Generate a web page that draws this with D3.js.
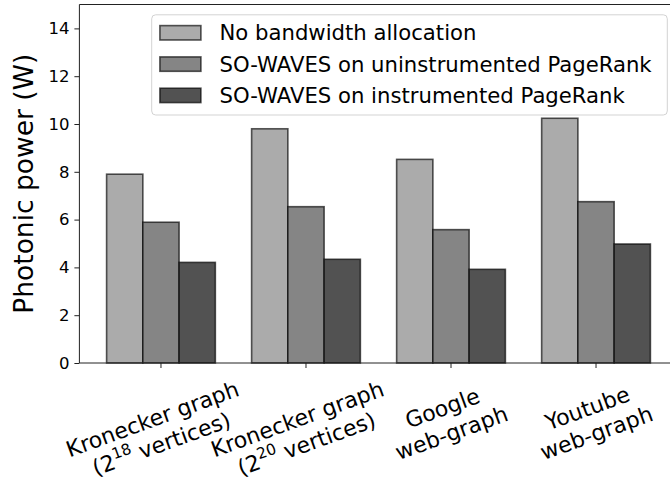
<!DOCTYPE html>
<html>
<head>
<meta charset="utf-8">
<script src="https://cdn.jsdelivr.net/npm/d3@7"></script>
<style>
  html, body { margin: 0; padding: 0; background: #fff; }
  svg { display: block; font-family: "DejaVu Sans", sans-serif; }
</style>
</head>
<body>
<div id="place"></div>
<script>
// categories (one entry per line, ^NN = superscript)
const categories = [
  ["Kronecker graph", "(2^18 vertices)"],
  ["Kronecker graph", "(2^20 vertices)"],
  ["Google", "web-graph"],
  ["Youtube", "web-graph"]
];
const seriesNames = [
  "No bandwidth allocation",
  "SO-WAVES on uninstrumented PageRank",
  "SO-WAVES on instrumented PageRank"
];
const noAllocation = [7.9, 9.8, 8.52, 10.24];
const uninstrumented = [5.89, 6.54, 5.58, 6.75];
const instrumented = [4.21, 4.34, 3.92, 4.98];
const yTicks = [0, 2, 4, 6, 8, 10, 12, 14];
const yLabel = "Photonic power (W)";

const series = [noAllocation, uninstrumented, instrumented];
const colors = ["#ababab", "#858585", "#525252"];

const W = 670, H = 480;
const margin = { left: 79.4, top: 4.5, bottom: 363 };
const barW = 0.25;

const svg = d3.select("#place").append("svg")
  .attr("width", W).attr("height", H);

// x : index -> pixel, matplotlib style margins
const x = d3.scaleLinear()
  .domain([-0.5625, categories.length - 1 + 0.5625])
  .range([margin.left, 677.6]);
const y = d3.scaleLinear()
  .domain([0, 15])
  .range([margin.bottom, margin.top]);

// bars
series.forEach((vals, s) => {
  svg.append("g").selectAll("rect")
    .data(vals).enter()
    .append("rect")
    .attr("x", (d, i) => x(i + (s - 1) * barW - barW / 2))
    .attr("width", x(barW) - x(0))
    .attr("y", d => y(d))
    .attr("height", d => y(0) - y(d))
    .attr("fill", colors[s])
    .attr("stroke", "rgba(0,0,0,0.65)")
    .attr("stroke-width", 1.6);
});

// y axis
const yAxis = svg.append("g")
  .attr("transform", "translate(" + margin.left + ",0)")
  .call(d3.axisLeft(y).tickValues(yTicks).tickSize(5).tickPadding(5).tickSizeOuter(0));
yAxis.selectAll("text").attr("font-size", 16.5).attr("fill", "#000")
  .attr("font-family", "DejaVu Sans");
yAxis.selectAll("line").attr("stroke", "#222");
yAxis.select(".domain").remove();

// spines
svg.append("line").attr("x1", margin.left).attr("x2", margin.left)
  .attr("y1", margin.top).attr("y2", margin.bottom).attr("stroke", "#222").attr("stroke-width", 1);
svg.append("line").attr("x1", margin.left).attr("x2", W)
  .attr("y1", margin.top).attr("y2", margin.top).attr("stroke", "#222").attr("stroke-width", 1);
svg.append("line").attr("x1", margin.left).attr("x2", W)
  .attr("y1", margin.bottom).attr("y2", margin.bottom).attr("stroke", "#222").attr("stroke-width", 1);

// x ticks
svg.append("g").selectAll("line")
  .data(categories).enter()
  .append("line")
  .attr("x1", (d, i) => x(i)).attr("x2", (d, i) => x(i))
  .attr("y1", margin.bottom).attr("y2", margin.bottom + 5)
  .attr("stroke", "#222");

// x tick labels, rotated 20deg, centred like matplotlib
const fs = 21.2;
const xfs = 22;
const ang = 20 * Math.PI / 180;
categories.forEach((lines, i) => {
  const g = svg.append("g");
  const n = lines.length;
  const hBox = xfs * (1.164 + 1.2 * (n - 1));
  let wBox = 0;
  lines.forEach((ln, k) => {
    const t = g.append("text")
      .attr("x", 0)
      .attr("y", -hBox / 2 + 0.928 * xfs + k * 1.2 * xfs)
      .attr("text-anchor", "middle")
      .attr("font-size", xfs)
      .attr("fill", "#000");
    const m = ln.match(/^(.*)\^(\d+)(.*)$/);
    if (m) {
      t.append("tspan").text(m[1]);
      t.append("tspan").attr("font-size", xfs * 0.7).attr("dy", -xfs * 0.42).text(m[2]);
      t.append("tspan").attr("dy", xfs * 0.42).text(m[3]);
    } else {
      t.text(ln);
    }
    wBox = Math.max(wBox, t.node().getComputedTextLength());
  });
  const hRot = wBox * Math.sin(ang) + hBox * Math.cos(ang);
  g.attr("transform", "translate(" + (x(i) - 4) + "," + (margin.bottom + 13 + hRot / 2) + ") rotate(-20)");
});

// y label
svg.append("text")
  .attr("transform", "translate(33," + ((margin.top + margin.bottom) / 2) + ") rotate(-90)")
  .attr("text-anchor", "middle")
  .attr("font-size", 26.5)
  .attr("fill", "#000")
  .text(yLabel);

// legend
const lg = svg.append("g");
lg.append("rect")
  .attr("x", 151.7).attr("y", 14.8)
  .attr("width", 515.6).attr("height", 100.2)
  .attr("rx", 4).attr("ry", 4)
  .attr("fill", "rgba(255,255,255,0.8)")
  .attr("stroke", "#d3d3d3").attr("stroke-width", 1);
seriesNames.forEach((name, s) => {
  const cy = 32.8 + 31.3 * s;
  lg.append("rect")
    .attr("x", 159.9).attr("y", cy - 7.2)
    .attr("width", 41).attr("height", 14.4)
    .attr("fill", colors[s])
    .attr("stroke", "rgba(0,0,0,0.65)").attr("stroke-width", 1.6);
  lg.append("text")
    .attr("x", 219.5).attr("y", cy + 7.4)
    .attr("font-size", fs)
    .attr("fill", "#000")
    .text(name);
});
</script>
</body>
</html>
